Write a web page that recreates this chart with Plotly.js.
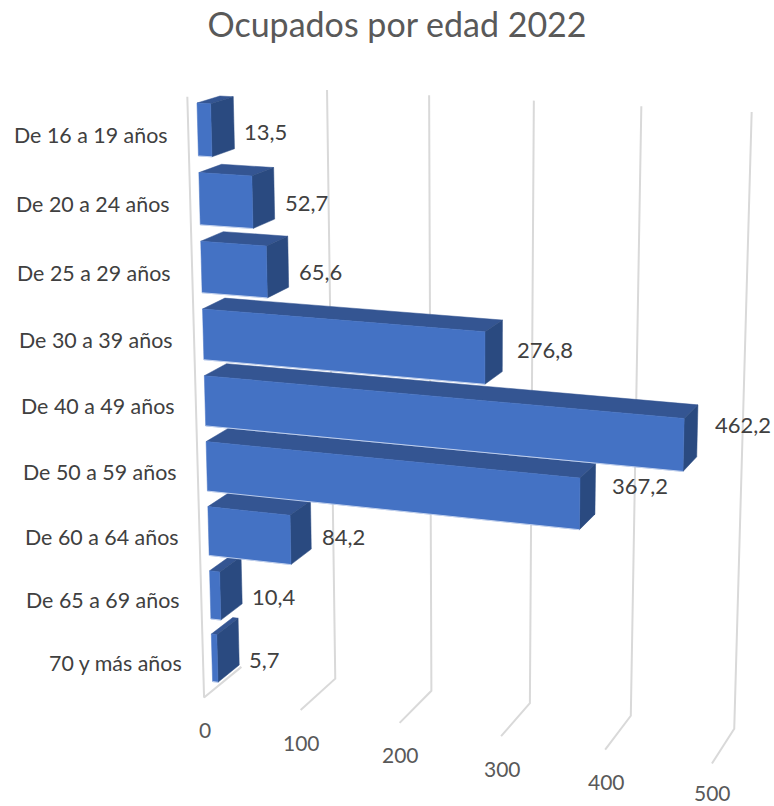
<!DOCTYPE html>
<html><head><meta charset="utf-8">
<script src="https://cdn.plot.ly/plotly-3.0.1.min.js"></script>
<style>html,body{margin:0;padding:0;background:#fff}</style></head>
<body><div id="chart" style="width:774px;height:806px"></div>
<script>
const titleText = "Ocupados por edad 2022";
const categories = ["De 16 a 19 años","De 20 a 24 años","De 25 a 29 años","De 30 a 39 años","De 40 a 49 años","De 50 a 59 años","De 60 a 64 años","De 65 a 69 años","70 y más años"];
const values = [13.5,52.7,65.6,276.8,462.2,367.2,84.2,10.4,5.7];
const valueTicks = [0,100,200,300,400,500];

// Perspective camera of the 3-D box: v = value, u = category slot, z = depth
function project(v,u,z){
  const w = -0.000128*v + 0.00697*u + 1 + 0.02*z;
  return [(0.9795*v + 3.26*u + 197 + 27.3*z)/w, (0.0415*v + 70.8*u + 103 - 5.08*z)/w];
}
const BAR = 0.76, U_TOP = -0.13, U_FLOOR = 8.9, Z_FRONT = -0.4, Z_BACK = 1.35;
const FRONT = "#4472C4", TOP = "#345592", SIDE = "#2A4A80", GRID = "#D9D9D9";
const FONT = "Lato, 'Open Sans', sans-serif";

function poly(pts,color){
  const p = pts.concat([pts[0]]);
  return {type:"scatter",mode:"lines",x:p.map(a=>a[0]),y:p.map(a=>a[1]),fill:"toself",fillcolor:color,
    line:{color:color,width:0.5},hoverinfo:"skip",showlegend:false};
}
function path(pts,color,width){
  return {type:"scatter",mode:"lines",x:pts.map(a=>a[0]),y:pts.map(a=>a[1]),
    line:{color:color,width:width},hoverinfo:"skip",showlegend:false};
}
const traces = [];
valueTicks.forEach((t,i)=>{
  const zw = i===0 ? Z_FRONT : Z_BACK;
  traces.push(path([project(t,U_TOP,zw),project(t,U_FLOOR,zw),
    i===0 ? project(t,U_FLOOR,Z_BACK) : project(t,U_FLOOR,Z_FRONT)],GRID,2));
});
for(let i=categories.length-1;i>=0;i--){
  const v=values[i], a=i, b=i+BAR;
  traces.push(poly([project(0,a,0),project(v,a,0),project(v,a,1),project(0,a,1)],TOP));
  traces.push(poly([project(v,a,0),project(v,b,0),project(v,b,1),project(v,a,1)],SIDE));
  traces.push(poly([project(0,a,0),project(v,a,0),project(v,b,0),project(0,b,0)],FRONT));
  traces.push(path([project(0,b,0),project(v,b,0)],"rgba(215,225,245,0.8)",1));
}
const ann = [];
function label(x,y,text,anchor,size,color){
  ann.push({x,y,xref:"x",yref:"y",text,showarrow:false,xanchor:anchor,yanchor:"middle",
    font:{family:FONT,size,color},borderpad:0,borderwidth:0});
}
categories.forEach((c,i)=>{
  const m = project(0,i+BAR/2,0);
  label(m[0]-30,m[1]+5.5,c,"right",21.4,"#404040");
  const e = project(values[i],i+BAR/2,1);
  label(e[0]+10+0.017*values[i],m[1]+1+0.05*values[i],String(values[i]).replace(".",","),"left",22,"#404040");
});
valueTicks.forEach(t=>{
  const p = project(t,U_FLOOR,Z_FRONT);
  label(p[0]+1,Math.min(p[1]+32,792.5),String(t),"center",21,"#595959");
});
const layout = {
  width:774,height:806,autosize:false,margin:{l:0,r:0,t:0,b:0},
  paper_bgcolor:"#fff",plot_bgcolor:"#fff",showlegend:false,
  title:{text:titleText,x:397/774,xanchor:"center",y:1-25/806,yanchor:"middle",font:{family:FONT,size:34,color:"#595959"}},
  xaxis:{range:[0,774],visible:false,fixedrange:true},
  yaxis:{range:[806,0],visible:false,fixedrange:true},
  annotations:ann
};
Plotly.newPlot("chart",traces,layout,{displayModeBar:false,staticPlot:true});
</script></body></html>
